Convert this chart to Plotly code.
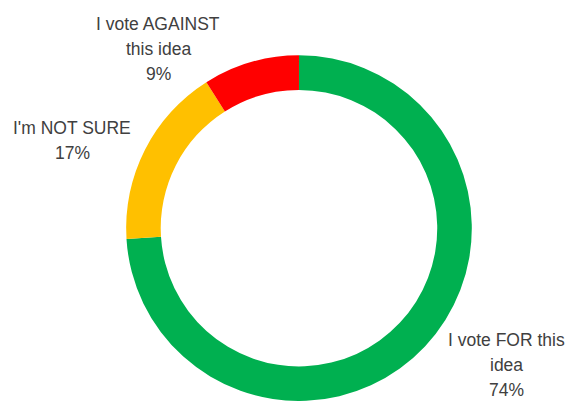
import plotly.graph_objects as go

# Data
labels = ["I vote FOR this idea", "I'm NOT SURE", "I vote AGAINST this idea"]
values = [74, 17, 9]
colors = ["#00B050", "#FFC000", "#FF0000"]
label_lines = [["I vote FOR this", "idea"], ["I'm NOT SURE"], ["I vote AGAINST", "this idea"]]

W, H = 571, 401

fig = go.Figure(go.Pie(
    labels=labels,
    values=values,
    marker=dict(colors=colors, line=dict(width=0)),
    hole=0.80,
    sort=False,
    direction="clockwise",
    rotation=0,
    textinfo="none",
    domain=dict(x=[0.2136, 0.8336], y=[0.0, 0.862]),
    showlegend=False,
))

# label placement (pixel centers of first line) and line spacing
label_pos = [(506, 340), (72, 128), (158, 24)]
line_gap = 25
total = sum(values)
annotations = []
for lines, v, (px, py) in zip(label_lines, values, label_pos):
    all_lines = lines + [f"{round(100 * v / total)}%"]
    for i, t in enumerate(all_lines):
        annotations.append(dict(
            text=t, x=px / W, y=1 - (py + i * line_gap) / H,
            xref="paper", yref="paper", xanchor="center", yanchor="middle",
            showarrow=False,
            font=dict(family="Liberation Sans", size=17.5, color="#404040"),
        ))

fig.update_layout(
    width=W, height=H,
    margin=dict(l=0, r=0, t=0, b=0),
    paper_bgcolor="white",
    plot_bgcolor="white",
    annotations=annotations,
)

fig.write_html("out.html")
